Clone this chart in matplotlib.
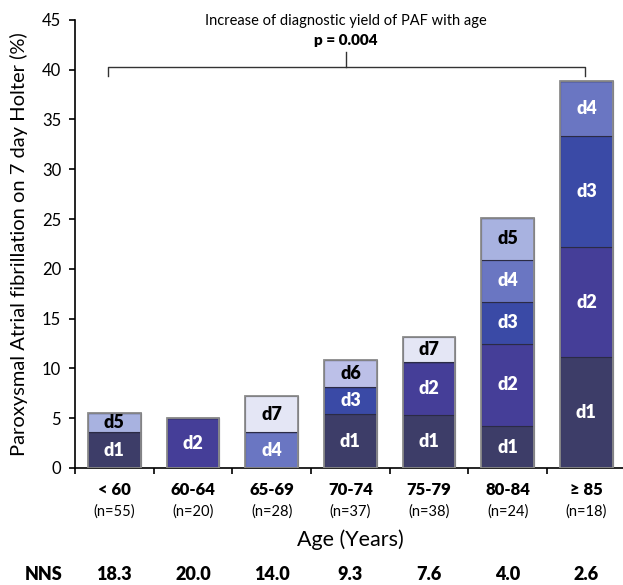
import matplotlib
matplotlib.use("Agg")
import matplotlib.pyplot as plt
import matplotlib.transforms as mtransforms
import numpy as np

plt.rcParams['font.family'] = ['Lato', 'DejaVu Sans']

# Age groups and sample sizes
categories = ['< 60', '60-64', '65-69', '70-74', '75-79', '80-84', '≥ 85']
n_labels = ['(n=55)', '(n=20)', '(n=28)', '(n=37)', '(n=38)', '(n=24)', '(n=18)']
nns = ['18.3', '20.0', '14.0', '9.3', '7.6', '4.0', '2.6']

# Share of PAF detected per day of Holter (%), stacked d1 .. d7
d1 = [3.6, 0, 0, 5.4, 5.3, 4.2, 11.1]
d2 = [0, 5.0, 0, 0, 5.3, 8.3, 11.1]
d3 = [0, 0, 0, 2.7, 0, 4.2, 11.1]
d4 = [0, 0, 3.6, 0, 0, 4.2, 5.6]
d5 = [1.9, 0, 0, 0, 0, 4.2, 0]
d6 = [0, 0, 0, 2.7, 0, 0, 0]
d7 = [0, 0, 3.6, 0, 2.6, 0, 0]

series = [('d1', d1), ('d2', d2), ('d3', d3), ('d4', d4),
          ('d5', d5), ('d6', d6), ('d7', d7)]
colors = {'d1': '#3d3d68', 'd2': '#453e98', 'd3': '#3a4aa6', 'd4': '#6a76c2',
          'd5': '#a8b2e0', 'd6': '#bcc0e8', 'd7': '#e4e6f5'}
text_col = {'d1': 'white', 'd2': 'white', 'd3': 'white', 'd4': 'white',
            'd5': 'black', 'd6': 'black', 'd7': 'black'}

fig = plt.figure(figsize=(6.23, 5.85), dpi=100)
ax = fig.add_axes([0.1204, 0.2, 0.884, 0.766])

x = np.arange(len(categories))
width = 0.67
bottom = np.zeros(len(categories))
for name, vals in series:
    vals = np.array(vals, dtype=float)
    ax.bar(x, vals, width, bottom=bottom, color=colors[name],
           edgecolor='#2b2b45', linewidth=0.8, zorder=2)
    for xi, v, b in zip(x, vals, bottom):
        if v > 0:
            ax.text(xi, b + v / 2, name, ha='center', va='center',
                    fontsize=13, fontweight='heavy', color=text_col[name], zorder=3)
    bottom += vals

# grey outline round each stack
ax.bar(x, bottom, width, fill=False, edgecolor='#8c8c8c', linewidth=1.3, zorder=4)

ax.set_xlim(-0.5, 6.5)
ax.set_ylim(0, 45)
ax.set_yticks(np.arange(0, 46, 5))
ax.tick_params(axis='y', labelsize=12, direction='out', length=4, width=1.2, pad=6)
ax.set_xticks(x)
ax.set_xticklabels([''] * len(x))
ax.tick_params(axis='x', which='major', length=0)
ax.set_xticks(np.arange(-0.5, 7, 1), minor=True)
ax.tick_params(axis='x', which='minor', direction='out', length=4, width=1.2)
for s in ['top', 'right']:
    ax.spines[s].set_visible(False)
for s in ['left', 'bottom']:
    ax.spines[s].set_linewidth(1.2)

ax.set_ylabel('Paroxysmal Atrial fibrillation on 7 day Holter (%)', fontsize=14.5, labelpad=10)

# category labels, n and NNS under the axis
trans = mtransforms.blended_transform_factory(ax.transData, ax.transAxes)
for xi, c, n, v in zip(x, categories, n_labels, nns):
    ax.text(xi, -0.049, c, transform=trans, ha='center', va='center',
            fontsize=12, fontweight='heavy')
    ax.text(xi, -0.098, n, transform=trans, ha='center', va='center', fontsize=10.5)
    ax.text(xi, -0.237, v, transform=trans, ha='center', va='center',
            fontsize=13, fontweight='heavy')
fig.text(44 / 623, 1 - 574 / 585, 'NNS', ha='center', va='center',
         fontsize=13, fontweight='heavy')
ax.text(0.5, -0.161, 'Age (Years)', transform=ax.transAxes, ha='center',
        va='center', fontsize=15.5)

# significance bracket
xl, xr, xm = -0.08, 5.98, 2.94
ax.plot([xl, xl, xr, xr], [39.4, 40.3, 40.3, 39.4], color='#333333', lw=1.0,
        clip_on=False, zorder=5)
ax.plot([xm, xm], [40.3, 41.8], color='#333333', lw=1.0, clip_on=False, zorder=5)
ax.text(xm, 44.9, 'Increase of diagnostic yield of PAF with age', ha='center',
        va='center', fontsize=10.5, clip_on=False)
ax.text(xm, 42.9, 'p = 0.004', ha='center', va='center', fontsize=11,
        fontweight='heavy', clip_on=False)

fig.savefig('out.png', dpi=100)
